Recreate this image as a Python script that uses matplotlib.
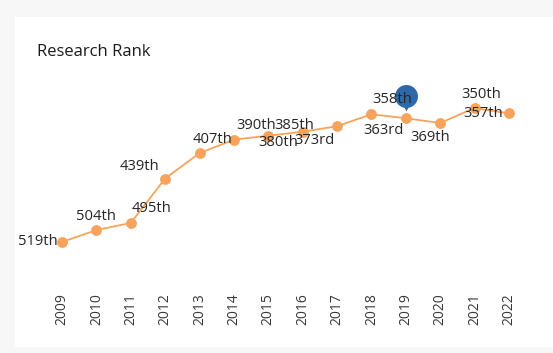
import matplotlib
matplotlib.use("Agg")
import matplotlib.pyplot as plt
from matplotlib.patches import Rectangle
from matplotlib.transforms import offset_copy

years = [2009, 2010, 2011, 2012, 2013, 2014, 2015, 2016, 2017, 2018, 2019, 2020, 2021, 2022]
ranks = [519, 504, 495, 439, 407, 390, 385, 380, 373, 358, 363, 369, 350, 357]
rank_labels = ["519th", "504th", "495th", "439th", "407th", "390th", "385th",
               "380th", "373rd", "358th", "363rd", "369th", "350th", "357th"]
highlight_year = 2019
title = "Research Rank"

# label offsets in pixels (dx, dy up) and horizontal alignment
label_offsets = [(-4, 0, "right"), (0, 14, "center"), (21, 14, "center"), (-26, 12, "center"),
                 (13, 14, "center"), (22, 14, "center"), (26, 10, "center"), (-24, -11, "center"),
                 (-23, -14, "center"), (21, 15, "center"), (-22, -12, "center"), (-10, -14, "center"),
                 (7, 13, "center"), (-6, 0, "right")]

W, H = 553, 353
fig = plt.figure(figsize=(W / 100, H / 100), dpi=100)
fig.patch.set_facecolor("#f7f7f7")
fig.patches.append(Rectangle((15 / W, 1 - 347 / H), 1, (347 - 16.5) / H,
                             transform=fig.transFigure, facecolor="white",
                             edgecolor="none", zorder=-5))

fig.text(37 / W, 1 - 52 / H, title, fontsize=12, family="Open Sans",
         color="#1a1a1a", va="center", ha="left")

ax = fig.add_axes([44.8 / W, (H - 250.7) / H, 481.4 / W, 150.7 / H])
ax.set_zorder(2)
ax.set_facecolor("none")
ax.set_xlim(2008.5, 2022.5)
ax.set_ylim(530, 340)
for s in ax.spines.values():
    s.set_visible(False)
ax.set_yticks([])
ax.set_xticks(years)
ax.set_xticklabels([str(y) for y in years], rotation=90, fontsize=10,
                   family="Open Sans", color="#383838")
ax.tick_params(axis="x", length=0, pad=30.5)

orange = "#F7A35C"
ax.plot(years, ranks, color=orange, lw=1.3, zorder=2, clip_on=False)
ax.plot(years, ranks, "o", color=orange, ms=7.8, mec="none", zorder=3, clip_on=False)

for x, y, lab, (dx, dy, ha) in zip(years, ranks, rank_labels, label_offsets):
    tr = offset_copy(ax.transData, fig=fig, x=dx, y=dy, units="dots")
    ax.text(x, y, lab, transform=tr, fontsize=10.6, family="Open Sans",
            color="#252525", ha=ha, va="center", zorder=5)

# highlight pin
blue = "#2D69A8"
hy = ranks[years.index(highlight_year)]
tr_c = offset_copy(ax.transData, fig=fig, x=0, y=22, units="dots")
ax.plot([highlight_year], [hy], "o", color=blue, ms=23 * 0.72, mec="none",
        transform=tr_c, zorder=4, clip_on=False)
tr_t = offset_copy(ax.transData, fig=fig, x=0, y=13, units="dots")
ax.plot([highlight_year], [hy], "v", color=blue, ms=12 * 0.72, mec="none",
        transform=tr_t, zorder=4, clip_on=False)

fig.savefig("out.png", dpi=100, facecolor=fig.get_facecolor())
